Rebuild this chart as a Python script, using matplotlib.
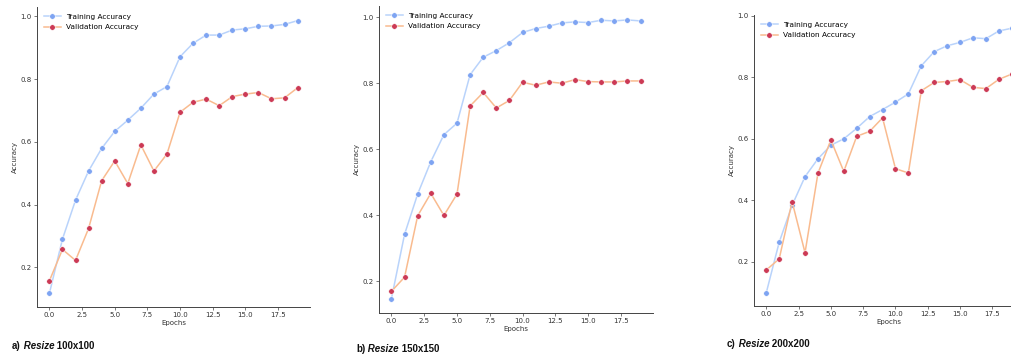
import matplotlib
matplotlib.use("Agg")
import matplotlib.pyplot as plt

# ── data ────────────────────────────────────────────────────────────
EPOCHS = list(range(20))

TRAIN_100 = [0.117, 0.290, 0.414, 0.507, 0.579, 0.633, 0.669, 0.707, 0.752, 0.776,
             0.871, 0.914, 0.940, 0.940, 0.956, 0.960, 0.968, 0.969, 0.974, 0.986]
VAL_100   = [0.157, 0.257, 0.222, 0.324, 0.476, 0.539, 0.467, 0.590, 0.507, 0.561,
             0.694, 0.726, 0.736, 0.715, 0.744, 0.752, 0.757, 0.737, 0.740, 0.772]

TRAIN_150 = [0.147, 0.342, 0.464, 0.562, 0.644, 0.679, 0.826, 0.879, 0.899, 0.923,
             0.954, 0.966, 0.973, 0.983, 0.986, 0.984, 0.991, 0.989, 0.992, 0.989]
VAL_150   = [0.169, 0.212, 0.398, 0.466, 0.399, 0.464, 0.731, 0.772, 0.725, 0.748,
             0.803, 0.794, 0.804, 0.800, 0.811, 0.805, 0.804, 0.804, 0.807, 0.807]

TRAIN_200 = [0.100, 0.264, 0.384, 0.477, 0.535, 0.579, 0.600, 0.634, 0.672, 0.695,
             0.719, 0.746, 0.837, 0.883, 0.902, 0.913, 0.928, 0.925, 0.950, 0.959]
VAL_200   = [0.174, 0.210, 0.396, 0.230, 0.488, 0.596, 0.494, 0.608, 0.624, 0.668,
             0.503, 0.489, 0.756, 0.783, 0.786, 0.792, 0.767, 0.763, 0.793, 0.810]

PANELS = [
    ("a)", "100x100", TRAIN_100, VAL_100),
    ("b)", "150x150", TRAIN_150, VAL_150),
    ("c)", "200x200", TRAIN_200, VAL_200),
]

# ── layout (pixels in a 1011x360 canvas) ────────────────────────────
W, H = 1011, 360
AX_BOXES = [  # left, top, right, bottom
    (37, 7, 310, 307),
    (379, 6, 653, 312.5),
    (754, 15, 1024, 306),
]
CAPTION_POS = [(12, 349), (356, 352), (727, 347)]

TRAIN_LINE = "#b9d3fb"
TRAIN_MARK = "#7ea4f2"
VAL_LINE = "#f9bb8f"
VAL_MARK = "#cc3a55"
FS = 5


def draw_panel(ax, train, val):
    ax.plot(EPOCHS, train, "-o", color=TRAIN_LINE, lw=1.1, ms=4,
            mfc=TRAIN_MARK, mec="white", mew=0.4, label="Training Accuracy")
    ax.plot(EPOCHS, val, "-o", color=VAL_LINE, lw=1.1, ms=4,
            mfc=VAL_MARK, mec="white", mew=0.4, label="Validation Accuracy")
    for s in ("top", "right"):
        ax.spines[s].set_visible(False)
    for s in ("left", "bottom"):
        ax.spines[s].set_linewidth(0.7)
        ax.spines[s].set_color("#444444")
    ax.tick_params(labelsize=FS, length=2, width=0.5, pad=1.8,
                   colors="#444444", labelcolor="#333333")
    ax.set_xlabel("Epochs", fontsize=FS, labelpad=1.5, color="#333333")
    ax.set_ylabel("Accuracy", fontsize=FS, labelpad=2, color="#333333")
    ax.legend(loc="upper left", frameon=False, fontsize=5.3,
              handlelength=2.3, labelspacing=0.6)


def add_caption(fig, pos, tag, size):
    # "a) *Resize* 100x100" -- bold with the word Resize in bold italic
    cap = dict(fontsize=7, fontweight="bold", family="Liberation Sans",
               color="#111111")
    t1 = fig.text(pos[0] / W, 1 - pos[1] / H, tag, va="baseline", **cap)
    t2 = fig.add_artist(plt.Annotation(" Resize", xy=(1, 0), xycoords=t1,
                                       va="bottom", style="italic", **cap))
    fig.add_artist(plt.Annotation(" " + size, xy=(1, 0), xycoords=t2,
                                  va="bottom", **cap))


def main():
    fig = plt.figure(figsize=(W / 100, H / 100), dpi=100)

    for (tag, size, train, val), box, cpos in zip(PANELS, AX_BOXES, CAPTION_POS):
        l, t, r, b = box
        ax = fig.add_axes([l / W, 1 - b / H, (r - l) / W, (b - t) / H])
        draw_panel(ax, train, val)
        add_caption(fig, cpos, tag, size)

    fig.savefig("out.png", dpi=100)
    plt.close(fig)


if __name__ == "__main__":
    main()
